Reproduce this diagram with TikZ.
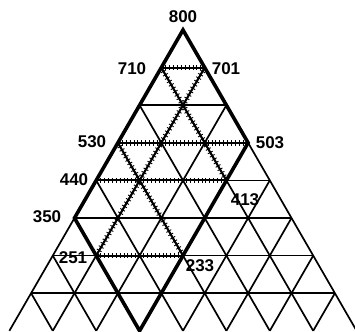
\documentclass[tikz,border=0pt]{standalone}
\usepackage{fontspec}
\setmainfont{Liberation Sans}
\begin{document}
\begin{tikzpicture}[x=1pt,y=-1pt,
 grid/.style={line width=1.7pt},
 boldline/.style={line width=3.6pt, line join=miter},
 hatch/.style={line width=1.9pt, postaction={draw, line width=5.5pt, dash pattern=on 0.9pt off 3pt}},
 lab/.style={font=\bfseries\fontsize{17}{17}\selectfont, inner sep=0pt}]
\useasboundingbox (0,0) rectangle (355,331);
\begin{scope}
\clip (0,0) rectangle (355,331);
\foreach \k in {0,...,8}{\foreach \j in {0,...,\k}{\coordinate (v-\k-\j) at ({183-\k*21.7+2*\j*21.7},{30+\k*37.6});}}
% grid
\foreach \k in {1,...,7} \draw[grid] (v-\k-0) -- (v-\k-\k);
\foreach \b in {0,...,7} {\pgfmathtruncatemacro\e{8-\b}\draw[grid] (v-\b-0) -- (v-8-\e);}
\foreach \c in {0,...,7} \draw[grid] (v-\c-\c) -- (v-8-\c);
% hatched lines
\draw[hatch] (v-1-0) -- (v-1-1);
\draw[hatch] (v-3-0) -- (v-3-3);
\draw[hatch] (v-4-0) -- (v-4-3);
\draw[hatch] (v-6-1) -- (v-6-3);
\draw[hatch] (v-1-0) -- (v-4-3);
\draw[hatch] (v-1-1) -- (v-6-1);
\draw[hatch] (v-3-0) -- (v-6-3);
% thick outline
\draw[boldline] (v-0-0) -- (v-5-0) -- (v-8-3) -- (v-3-3) -- cycle;
\end{scope}
% labels
\node[lab] (l800) at (183,17) {800};
\node[lab] (l710) at (132,69) {710};
\node[lab] (l701) at (226,69) {701};
\node[lab] (l530) at (92,142) {530};
\node[lab] (l503) at (270,143) {503};
\node[lab] (l440) at (74,180) {440};
\node[lab] (l413) at (245,200) {413};
\node[lab] (l350) at (47,217) {350};
\node[lab] (l251) at (73,258) {251};
\node[lab] (l233) at (200,266) {233};
\end{tikzpicture}
\end{document}
